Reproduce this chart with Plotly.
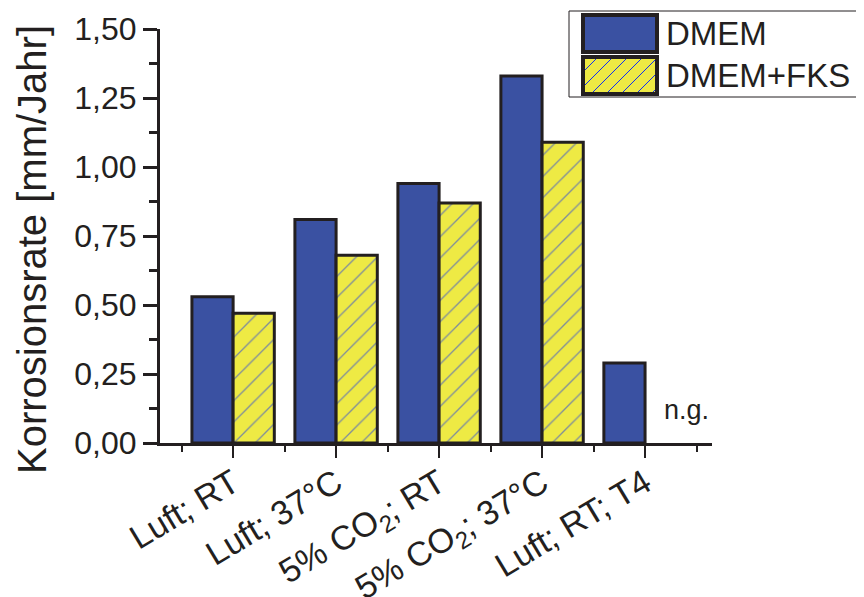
import plotly.graph_objects as go

categories = ["Luft; RT", "Luft; 37°C", "5% CO<sub>2</sub>; RT", "5% CO<sub>2</sub>; 37°C", "Luft; RT; T4"]
dmem = [0.53, 0.81, 0.94, 1.33, 0.29]
dmem_fks = [0.47, 0.68, 0.87, 1.09, None]
series_names = ["DMEM", "DMEM+FKS"]
y_ticks = [0, 0.25, 0.5, 0.75, 1.0, 1.25, 1.5]
y_ticktext = ["0,00", "0,25", "0,50", "0,75", "1,00", "1,25", "1,50"]

BLUE = "#3a51a2"
HATCH = "#1030f0"
YELLOW = "#eeea44"
INK = "#231f20"
FONT = "Liberation Sans, Arial, sans-serif"

xpos = list(range(len(categories)))

# the page body has an 8px margin; work in reference pixels and shift
OFF = 8
W, H = 864 - OFF, 597 - OFF
L, R, T, B = 160 - OFF, 712 - OFF, 29 - OFF, 443 - OFF


def px(x):
    return (x - OFF - L) / (R - L)


def py(y):
    return (B - (y - OFF)) / (B - T)


fig = go.Figure()
fig.add_trace(go.Bar(
    x=xpos, y=dmem, name=series_names[0],
    marker=dict(color=BLUE, line=dict(color=INK, width=3)),
    showlegend=False,
))
fig.add_trace(go.Bar(
    x=xpos, y=dmem_fks, name=series_names[1],
    marker=dict(color=YELLOW, line=dict(color=INK, width=3),
                pattern=dict(shape="/", fgcolor=HATCH, bgcolor=YELLOW,
                             fillmode="overlay", size=15, solidity=0.09)),
    showlegend=False,
))

shapes = []
annotations = []
# legend box
shapes.append(dict(type="rect", xref="paper", yref="paper",
                   x0=px(569), x1=px(862), y0=py(97), y1=py(11),
                   line=dict(color=INK, width=1), fillcolor="white", layer="above"))
# swatch 1
shapes.append(dict(type="rect", xref="paper", yref="paper",
                   x0=px(583), x1=px(657), y0=py(52), y1=py(15),
                   line=dict(color=INK, width=4), fillcolor=BLUE, layer="above"))
# swatch 2 fill
sx0, sx1, sy0, sy1 = 583, 657, 57, 94
shapes.append(dict(type="rect", xref="paper", yref="paper",
                   x0=px(sx0), x1=px(sx1), y0=py(sy1), y1=py(sy0),
                   fillcolor=YELLOW, line=dict(width=0), layer="above"))
# hatch lines, slope "/" (up-right), spacing 15px
sp = 15
c = sx0 - (sy1 - sy0)
while c < sx1:
    xa, ya = c, sy1
    xb, yb = c + (sy1 - sy0), sy0
    if xa < sx0:
        ya = sy1 - (sx0 - c)
        xa = sx0
    if xb > sx1:
        yb = sy1 - (sx1 - c)
        xb = sx1
    if xa < xb:
        shapes.append(dict(type="line", xref="paper", yref="paper",
                           x0=px(xa), y0=py(ya), x1=px(xb), y1=py(yb),
                           line=dict(color=HATCH, width=1), layer="above"))
    c += sp
shapes.append(dict(type="rect", xref="paper", yref="paper",
                   x0=px(sx0), x1=px(sx1), y0=py(sy1), y1=py(sy0),
                   line=dict(color=INK, width=4), layer="above"))

annotations.append(dict(xref="paper", yref="paper", x=px(664), y=py(33),
                        text=series_names[0], showarrow=False, xanchor="left",
                        yanchor="middle", font=dict(family=FONT, size=33, color=INK)))
annotations.append(dict(xref="paper", yref="paper", x=px(664), y=py(75),
                        text=series_names[1], showarrow=False, xanchor="left",
                        yanchor="middle", font=dict(family=FONT, size=33, color=INK)))
# y title
annotations.append(dict(xref="paper", yref="paper", x=px(32), y=py(250),
                        text="Korrosionsrate [mm/Jahr]", textangle=-90, showarrow=False,
                        xanchor="center", yanchor="middle",
                        font=dict(family=FONT, size=40, color=INK)))
# n.g.
annotations.append(dict(x=4.4, y=0.12, xref="x", yref="y", text="n.g.", showarrow=False,
                        font=dict(family=FONT, size=27, color=INK)))

fig.update_layout(
    width=W, height=H,
    margin=dict(l=L, r=W - R, t=T, b=H - B, pad=0, autoexpand=False),
    paper_bgcolor="white", plot_bgcolor="white",
    barmode="group", bargap=0.2, bargroupgap=0,
    font=dict(family=FONT, color=INK, size=30),
    shapes=shapes, annotations=annotations,
    showlegend=False,
)
fig.update_xaxes(
    range=[-0.71, 4.65], tickmode="array", tickvals=xpos, ticktext=categories,
    tickangle=-31, ticks="outside", ticklen=12, tickwidth=2, tickcolor=INK,
    showline=True, linewidth=3, linecolor=INK, showgrid=False, zeroline=False,
    automargin=False, ticklabelstandoff=-8,
    tickfont=dict(family=FONT, size=34, color=INK),
    minor=dict(ticks="outside", ticklen=6, tickwidth=2, tickcolor=INK,
               tick0=0.5, dtick=1, showgrid=False),
)
fig.update_yaxes(
    range=[0, 1.5], tickmode="array", tickvals=y_ticks, ticktext=y_ticktext,
    ticks="outside", ticklen=14, tickwidth=3, tickcolor=INK,
    showline=True, linewidth=3, linecolor=INK, showgrid=False, zeroline=False,
    automargin=False,
    tickfont=dict(family=FONT, size=32, color=INK),
    minor=dict(ticks="outside", ticklen=8, tickwidth=3, tickcolor=INK,
               tick0=0.125, dtick=0.25, showgrid=False),
)

fig.write_html("out.html")
